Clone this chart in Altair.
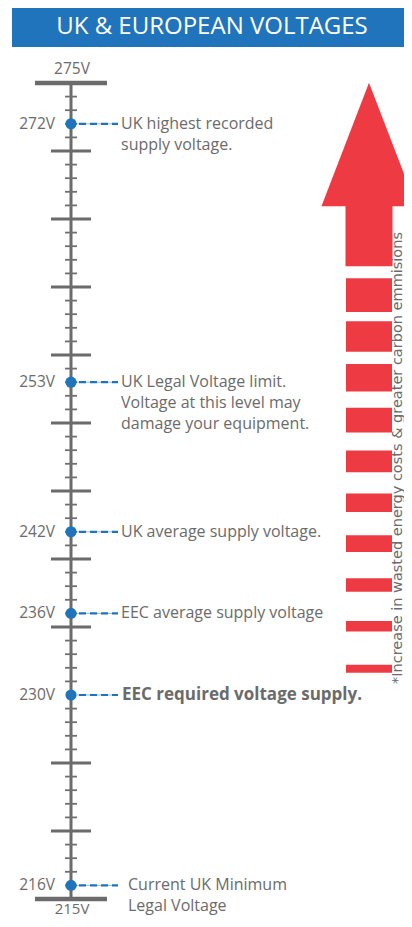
import altair as alt
import pandas as pd

# ---------------- data ----------------
title_text = "UK & EUROPEAN VOLTAGES"
axis_top = 275
axis_bottom = 215
scale_labels = ["275V", "215V"]

marker_volts = [272, 253, 242, 236, 230, 216]
marker_value_labels = ["272V", "253V", "242V", "236V", "230V", "216V"]
marker_notes = [
    ["UK highest recorded", "supply voltage."],
    ["UK Legal Voltage limit.", "Voltage at this level may", "damage your equipment."],
    ["UK average supply voltage."],
    ["EEC average supply voltage"],
    ["EEC required voltage supply."],
    ["Current UK Minimum", "Legal Voltage"],
]
marker_bold = [False, False, False, False, True, False]

arrow_note = "*Increase in wasted energy costs & greater carbon emmisions"
# arrow (in volts on the same vertical scale)
arrow_head = [275.02, 265.94]          # apex, base
arrow_shaft = [265.94, 261.52]         # top, bottom
arrow_dash_top = [260.64, 257.49, 254.34, 251.12, 247.97, 244.82, 241.74, 238.59, 235.44, 232.22]
arrow_dash_bottom = [258.17, 255.24, 252.31, 249.31, 246.38, 243.45, 240.52, 237.59, 234.66, 231.63]

# ---------------- styling ----------------
W, H = 396, 911
PX_PER_V = 13.6
Y_TOP = 275 + 75 / PX_PER_V
Y_DOMAIN = [Y_TOP - H / PX_PER_V, Y_TOP]
FONT = "Open Sans"
GRAY = "#6b6b6b"
BLUE = "#1f74bc"
RED = "#ee3b43"
AXIS_X = 63
ARROW_X = 361

yscale = alt.Scale(domain=Y_DOMAIN, nice=False, zero=False)


def Y(field):
    return alt.Y(f"{field}:Q", scale=yscale, axis=None)


# title bar
title_df = pd.DataFrame({"t": [title_text]})
title_bar = alt.Chart(title_df).mark_rect(color=BLUE).encode(
    x=alt.value(4), x2=alt.value(W), y=alt.value(0), y2=alt.value(39)
)
title_txt = alt.Chart(title_df).mark_text(
    font=FONT, fontSize=24, color="white", align="center", baseline="alphabetic"
).encode(x=alt.value(204), y=alt.value(25.5), text="t:N")

# arrow
head_df = pd.DataFrame({"v": [(arrow_head[0] + arrow_head[1]) / 2]})
head_h = (arrow_head[0] - arrow_head[1]) * PX_PER_V
head = alt.Chart(head_df).mark_point(
    shape="M0,-1L0.77,1L-0.77,1Z", filled=True, opacity=1, color=RED,
    size=head_h ** 2, strokeWidth=0
).encode(x=alt.value(ARROW_X), y=Y("v"))

shaft_df = pd.DataFrame({"top": [arrow_shaft[0] + 0.05], "bottom": [arrow_shaft[1]]})
shaft = alt.Chart(shaft_df).mark_rect(color=RED).encode(
    x=alt.value(ARROW_X - 23.5), x2=alt.value(ARROW_X + 23.5), y=Y("top"), y2="bottom:Q"
)
dash_df = pd.DataFrame({"top": arrow_dash_top, "bottom": arrow_dash_bottom})
dashes = alt.Chart(dash_df).mark_rect(color=RED).encode(
    x=alt.value(ARROW_X - 23), x2=alt.value(ARROW_X + 23), y=Y("top"), y2="bottom:Q"
)
note_df = pd.DataFrame({"t": [arrow_note]})
note = alt.Chart(note_df).mark_text(
    font="DejaVu Sans", fontSize=14.5, color=GRAY, angle=270, align="left",
    baseline="alphabetic"
).encode(x=alt.value(393.5), y=alt.value(676), text="t:N")

# vertical scale
axis_df = pd.DataFrame({"top": [axis_top], "bottom": [axis_bottom]})
axis_line = alt.Chart(axis_df).mark_rule(color=GRAY, strokeWidth=3).encode(
    x=alt.value(AXIS_X), y=Y("top"), y2="bottom:Q"
)
minor_df = pd.DataFrame({"v": [v for v in range(axis_bottom + 1, axis_top) if v % 5 != 0]})
major_df = pd.DataFrame({"v": [v for v in range(axis_bottom + 5, axis_top, 5)
                               if v not in marker_volts]})
caps_df = pd.DataFrame({"v": [axis_top, axis_bottom], "t": scale_labels})
minor = alt.Chart(minor_df).mark_rule(color="#707070", strokeWidth=1.8).encode(
    x=alt.value(AXIS_X - 6), x2=alt.value(AXIS_X + 6), y=Y("v")
)
major = alt.Chart(major_df).mark_rule(color=GRAY, strokeWidth=3).encode(
    x=alt.value(AXIS_X - 20), x2=alt.value(AXIS_X + 20), y=Y("v")
)
caps = alt.Chart(caps_df).mark_rule(color=GRAY, strokeWidth=4.5).encode(
    x=alt.value(AXIS_X - 36), x2=alt.value(AXIS_X + 36), y=Y("v")
)
cap_top_lbl = alt.Chart(caps_df.iloc[[0]]).mark_text(
    font=FONT, fontSize=15.5, color=GRAY, align="center", baseline="alphabetic", dy=-9
).encode(x=alt.value(AXIS_X + 1), y=Y("v"), text="t:N")
cap_bot_lbl = alt.Chart(caps_df.iloc[[1]]).mark_text(
    font=FONT, fontSize=15, color=GRAY, align="center", baseline="alphabetic", dy=15
).encode(x=alt.value(AXIS_X + 1), y=Y("v"), text="t:N")

# markers
mk = pd.DataFrame({
    "v": marker_volts,
    "lbl": marker_value_labels,
    "note": marker_notes,
    "bold": marker_bold,
})
conn_base = alt.Chart(mk).mark_rule(color="#8dbbe3", strokeWidth=1).encode(
    x=alt.value(AXIS_X + 6), x2=alt.value(110), y=Y("v")
)
conn = alt.Chart(mk).mark_rule(color=BLUE, strokeWidth=2.2, strokeDash=[7, 4]).encode(
    x=alt.value(AXIS_X + 8), x2=alt.value(110), y=Y("v")
)
dots = alt.Chart(mk).mark_circle(color=BLUE, size=125, opacity=1).encode(
    x=alt.value(AXIS_X), y=Y("v")
)
vlabels = alt.Chart(mk).mark_text(
    font=FONT, fontSize=15.5, color=GRAY, align="right", baseline="middle"
).encode(x=alt.value(47), y=Y("v"), text="lbl:N")

notes_reg = alt.Chart(mk).transform_filter(
    "!datum.bold && datum.v != 216"
).mark_text(
    font=FONT, fontSize=16, color=GRAY, align="left", baseline="alphabetic",
    dy=5, lineHeight=21
).encode(x=alt.value(113), y=Y("v"), text="note")
notes_low = alt.Chart(mk).transform_filter(
    "datum.v == 216"
).mark_text(
    font=FONT, fontSize=16, color=GRAY, align="left", baseline="alphabetic",
    dy=5, lineHeight=21
).encode(x=alt.value(120), y=Y("v"), text="note")
notes_bold = alt.Chart(mk).transform_filter(
    "datum.bold"
).mark_text(
    font=FONT, fontSize=17, fontWeight="bold", color=GRAY, align="left",
    baseline="alphabetic", dy=5
).encode(x=alt.value(114), y=Y("v"), text="note")

chart = alt.layer(
    title_bar, title_txt, head, shaft, dashes, note,
    axis_line, minor, major, caps, cap_top_lbl, cap_bot_lbl,
    conn_base, conn, dots, vlabels, notes_reg, notes_low, notes_bold,
).properties(
    width=W, height=H, autosize=alt.AutoSizeParams(type="none"), padding=0
).configure_view(stroke=None)

chart.save("out.html", embed_options={"renderer": "svg", "actions": False})
